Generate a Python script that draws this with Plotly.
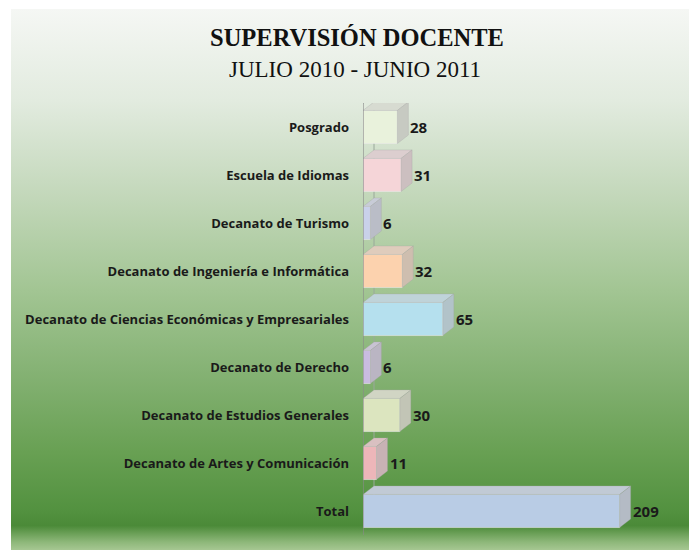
import base64
import plotly.graph_objects as go

categories = [
    "Posgrado",
    "Escuela de Idiomas",
    "Decanato de Turismo",
    "Decanato de Ingeniería e Informática",
    "Decanato de Ciencias Económicas y Empresariales",
    "Decanato de Derecho",
    "Decanato de Estudios Generales",
    "Decanato de Artes y Comunicación",
    "Total",
]
values = [28, 31, 6, 32, 65, 6, 30, 11, 209]
front_colors = ["#e9f2dc", "#f5d5d8", "#c9d1ea", "#fcd2ae", "#b5e0ee",
                "#c9bce0", "#dce5bf", "#edb6b9", "#b9cce5"]

W, H = 689, 550
ML, MR, MT, MB = 363, 19, 103, 15
XMAX = 250
pw = W - ML - MR
ph = H - MT - MB
n = len(categories)
ypos = list(range(n))

# depth of the 3D effect in pixels -> data units
dx = 11 * XMAX / pw
dy = 8.5 * n / ph
half = 0.345


def mix(c, g, t):
    c = c.lstrip("#"); g = g.lstrip("#")
    a = [int(c[i:i + 2], 16) for i in (0, 2, 4)]
    b = [int(g[i:i + 2], 16) for i in (0, 2, 4)]
    return "#" + "".join(f"{round(a[i] * (1 - t) + b[i] * t):02x}" for i in range(3))


fig = go.Figure()
fig.add_trace(go.Bar(
    y=ypos, x=values, orientation="h",
    marker=dict(color=front_colors, line=dict(color="rgba(235,235,235,0.7)", width=0.8)),
    width=2 * half,
    textposition="none",
    hoverinfo="x+y",
))

shapes = []
annotations = []
for i, v in enumerate(values):
    c = front_colors[i]
    top = mix(c, "#c8c8c8", 0.55)
    side = mix(c, "#b0b0b0", 0.6)
    y0 = i - half
    y1 = i + half
    shapes.append(dict(type="path", xref="x", yref="y", layer="above",
                       path=f"M0,{y0} L{v},{y0} L{v + dx},{y0 - dy} L{dx},{y0 - dy} Z",
                       fillcolor=top, line=dict(color="rgba(160,160,160,0.6)", width=0.5)))
    shapes.append(dict(type="path", xref="x", yref="y", layer="above",
                       path=f"M{v},{y0} L{v + dx},{y0 - dy} L{v + dx},{y1 - dy} L{v},{y1} Z",
                       fillcolor=side, line=dict(color="rgba(160,160,160,0.6)", width=0.5)))
    annotations.append(dict(x=v + dx, y=i, xref="x", yref="y", text=f"<b>{v}</b>",
                            showarrow=False, xanchor="left", yanchor="middle", xshift=0,
                            font=dict(family="Open Sans", size=15, color="#1a1a1a")))

# axis walls
shapes.append(dict(type="line", xref="x", yref="y", x0=0, x1=0, y0=-0.5, y1=n - 0.5,
                   line=dict(color="#8a8a8a", width=1.2), layer="above"))
shapes.append(dict(type="line", xref="x", yref="y", x0=0, x1=dx, y0=-0.5, y1=-0.5 - dy,
                   line=dict(color="#8a8a8a", width=1.2), layer="above"))
shapes.append(dict(type="line", xref="x", yref="y", x0=dx, x1=dx, y0=-0.5 - dy, y1=n - 0.5 - dy,
                   line=dict(color="#9aa89a", width=1), layer="below"))

# gradient background as svg
stops = [(0.0, "#f5f7f4"), (0.17, "#e2ebdf"), (0.35, "#c2d7b9"), (0.52, "#a2c593"),
         (0.67, "#85b274"), (0.82, "#68a053"), (0.93, "#52913f"), (0.955, "#4b8a38"),
         (0.985, "#8db779"), (1.0, "#a6c792")]
stop_xml = "".join(f'<stop offset="{o}" stop-color="{c}"/>' for o, c in stops)
svg = (f'<svg xmlns="http://www.w3.org/2000/svg" width="678" height="541" viewBox="0 0 678 541" '
       f'preserveAspectRatio="none">'
       f'<defs><linearGradient id="g" x1="0" y1="0" x2="0" y2="1">{stop_xml}</linearGradient></defs>'
       f'<rect width="678" height="541" fill="url(#g)"/></svg>')
src = "data:image/svg+xml;base64," + base64.b64encode(svg.encode()).decode()
bx0, by0 = 11, 9
fig.add_layout_image(dict(
    source=src, xref="paper", yref="paper",
    x=(bx0 - ML) / pw, y=1 + (MT - by0) / ph,
    sizex=(W - bx0) / pw, sizey=(H - by0) / ph,
    xanchor="left", yanchor="top", sizing="stretch", layer="below",
))


def px(xs, ys):
    return (xs - ML) / pw, 1 + (MT - ys) / ph


tx, ty = px(357, 38)
annotations.append(dict(x=tx, y=ty, xref="paper", yref="paper", text="<b>SUPERVISIÓN DOCENTE</b>",
                        showarrow=False, xanchor="center", yanchor="middle",
                        font=dict(family="Liberation Serif", size=24.5, color="#111")))
sx, sy = px(355, 69)
annotations.append(dict(x=sx, y=sy, xref="paper", yref="paper", text="JULIO 2010 - JUNIO 2011",
                        showarrow=False, xanchor="center", yanchor="middle",
                        font=dict(family="Liberation Serif", size=23, color="#111")))

fig.update_layout(
    width=W, height=H,
    margin=dict(l=ML, r=MR, t=MT, b=MB),
    paper_bgcolor="white", plot_bgcolor="rgba(0,0,0,0)",
    showlegend=False,
    shapes=shapes, annotations=annotations,
    xaxis=dict(range=[0, XMAX], visible=False, fixedrange=True),
    yaxis=dict(range=[n - 0.5, -0.5], tickvals=ypos, ticktext=categories,
               showgrid=False, zeroline=False, showline=False, ticks="",
               ticklabelstandoff=13, fixedrange=True,
               tickfont=dict(family="Open Sans", size=13, color="#1a1a1a", weight="bold")),
    font=dict(family="Open Sans"),
)

fig.write_html("out.html", config={"displayModeBar": False},
               post_script="document.body.style.margin='0';document.body.style.overflow='hidden';")
